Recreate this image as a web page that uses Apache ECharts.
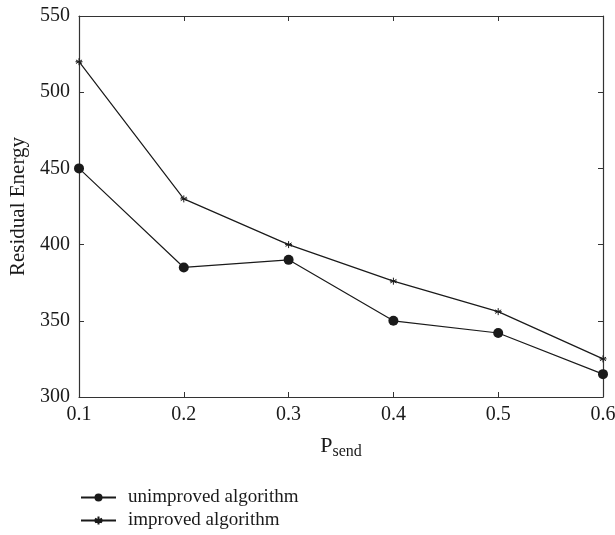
<!DOCTYPE html>
<html><head><meta charset="utf-8">
<script src="https://cdn.jsdelivr.net/npm/echarts@6/dist/echarts.min.js"></script>
<style>html,body{margin:0;padding:0;background:#fff}#c{width:615px;height:535px}</style>
</head><body><div id="c"></div>
<script>
const pSend = [0.1, 0.2, 0.3, 0.4, 0.5, 0.6];
const unimproved = [450, 385, 390, 350, 342, 315];
const improved = [520, 430, 400, 376, 356, 325];
const seriesNames = ['unimproved algorithm', 'improved algorithm'];

const FONT = 'Liberation Serif';
const C = '#1a1a1a';
const star = 'path://M0,-1L0,1M-0.87,-0.5L0.87,0.5M-0.87,0.5L0.87,-0.5M-1,0L1,0';
const chart = echarts.init(document.getElementById('c'));
const axisCommon = {
  axisLine: {lineStyle: {color: '#333', width: 1.2}},
  axisTick: {inside: true, length: 5, lineStyle: {color: '#333'}},
  splitLine: {show: false}
};
const legendCommon = {
  orient: 'vertical', left: 80, padding: 0,
  itemWidth: 35, itemHeight: 10,
  textStyle: {fontFamily: FONT, fontSize: 19, color: C, padding: [0, 0, 0, 7]}
};
chart.setOption({
  animation: false,
  textStyle: {fontFamily: FONT},
  grid: {left: 79, right: 12, top: 16, bottom: 138, outerBoundsMode: 'none', containLabel: false},
  legend: [
    Object.assign({top: 488, data: [seriesNames[0]]}, legendCommon),
    Object.assign({top: 511, data: [seriesNames[1]]}, legendCommon)
  ],
  xAxis: [
    Object.assign({type: 'value', min: 0.1, max: 0.6, interval: 0.1, position: 'bottom',
      name: 'P{s|send}', nameLocation: 'middle', nameGap: 35,
      nameTextStyle: {fontFamily: FONT, fontSize: 22, color: C, rich: {s: {fontFamily: FONT, fontSize: 16, color: C, padding: [12, 0, 0, 0]}}},
      axisLabel: {fontFamily: FONT, fontSize: 20, color: C, margin: 8, formatter: v => v.toFixed(1)}}, axisCommon),
    Object.assign({type: 'value', min: 0.1, max: 0.6, interval: 0.1, position: 'top', axisLabel: {show: false}}, axisCommon)
  ],
  yAxis: [
    Object.assign({type: 'value', min: 300, max: 550, interval: 50, position: 'left',
      name: 'Residual Energy', nameLocation: 'middle', nameGap: 48,
      nameTextStyle: {fontFamily: FONT, fontSize: 21, color: C},
      axisLabel: {fontFamily: FONT, fontSize: 20, color: C, margin: 9}}, axisCommon),
    Object.assign({type: 'value', min: 300, max: 550, interval: 50, position: 'right', axisLabel: {show: false}}, axisCommon)
  ],
  series: [
    {name: seriesNames[0], type: 'line', data: pSend.map((x, i) => [x, unimproved[i]]),
      symbol: 'circle', symbolSize: 10, lineStyle: {color: C, width: 1.2},
      itemStyle: {color: C}},
    {name: seriesNames[1], type: 'line', data: pSend.map((x, i) => [x, improved[i]]),
      symbol: star, symbolSize: 7, lineStyle: {color: C, width: 1.2},
      itemStyle: {color: C, borderColor: C, borderWidth: 1}}
  ]
});
</script></body></html>
